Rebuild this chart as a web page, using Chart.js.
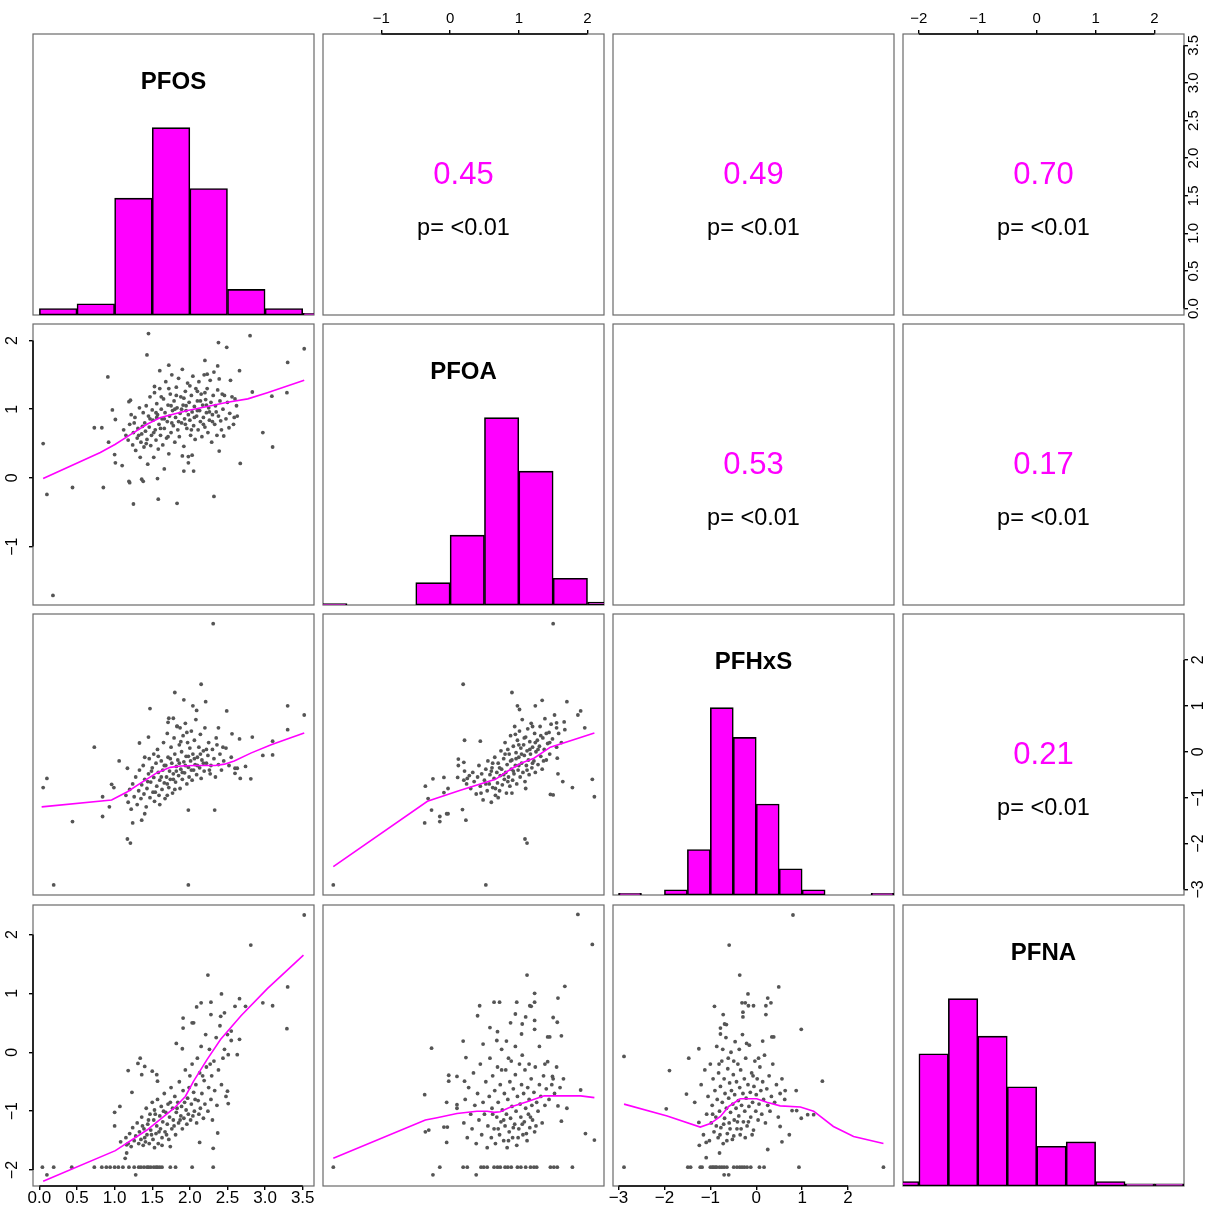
<!DOCTYPE html>
<html><head><meta charset="utf-8">
<script src="https://cdn.jsdelivr.net/npm/chart.js@4.4.1/dist/chart.umd.min.js"></script>
<style>
html,body{margin:0;padding:0;background:#fff;}
#wrap{position:relative;width:1216px;height:1207px;overflow:hidden;background:#fff;}
#wrap canvas{position:absolute;}
</style></head><body><div id="wrap"></div>
<script>
// ---------------- data ----------------
const varNames = ['PFOS', 'PFOA', 'PFHxS', 'PFNA'];
const axisMin = [-0.085, -1.85, -3.12, -2.27];
const axisMax = [3.65, 2.24, 3.0, 2.5];
const pfosTicks = [0, 0.5, 1, 1.5, 2, 2.5, 3, 3.5];
const pfoaTicks = [-1, 0, 1, 2];
const pfhxsTicks = [-3, -2, -1, 0, 1, 2];
const pfnaTicks = [-2, -1, 0, 1, 2];

const binWidth = 0.5;
const pfosBinStarts = [0, 0.5, 1, 1.5, 2, 2.5, 3, 3.5];
const pfosCounts = [4, 7, 73, 117, 79, 16, 4, 1];
const pfoaBinStarts = [-2, -0.5, 0, 0.5, 1, 1.5, 2];
const pfoaCounts = [1, 15, 47, 126, 90, 18, 2];
const pfhxsBinStarts = [-3, -2, -1.5, -1, -0.5, 0, 0.5, 1, 2.5];
const pfhxsCounts = [1, 3, 26, 107, 90, 52, 15, 3, 1];
const pfnaBinStarts = [-2.5, -2, -1.5, -1, -0.5, 0, 0.5, 1, 1.5, 2];
const pfnaCounts = [2, 60, 85, 68, 45, 18, 20, 2, 1, 1];

const corrPairs = [[0, 1], [0, 2], [0, 3], [1, 2], [1, 3], [2, 3]];
const corrValues = ['0.45', '0.49', '0.70', '0.53', '0.17', '0.21'];
const pValueLabels = ['p= <0.01', 'p= <0.01', 'p= <0.01', 'p= <0.01', 'p= <0.01', 'p= <0.01'];

// scatter: x = column variable, y = row variable
const pfosPfoaPoints = [
[0.05,0.50],[0.10,-0.24],[0.18,-1.71],[0.44,-0.14],[0.85,-0.14],[0.73,0.73],[0.83,0.73],[0.91,1.47],[0.97,0.99],[1.01,0.85],[0.92,0.52],[1.00,0.34],[1.01,0.22],[1.10,0.18],[1.19,1.11],[1.21,1.13],[1.25,-0.38],[1.19,-0.05],[1.20,-0.07],[1.36,-0.02],[1.38,-0.05],[1.43,1.79],[1.45,2.10],[1.53,1.33],[1.60,1.56],[1.58,-0.31],[1.57,-0.01],[1.66,0.13],[1.72,1.64],[1.83,-0.37],[2.32,-0.27],[2.38,1.97],[2.49,1.90],[2.80,2.07],[3.52,1.88],[3.30,1.68],[3.29,1.24],[3.09,1.19],[2.97,0.66],[3.10,0.45],[2.67,0.21],[2.39,0.39],[2.83,1.25],[2.66,1.56],[1.92,0.10],[2.05,0.10],[1.98,0.31],[2.03,0.33],[1.90,0.32],[2.63,0.90],[2.59,0.88],[2.60,1.15],[2.52,0.73],[2.45,0.61],[2.41,0.83],[2.54,1.42],[2.43,1.22],[2.32,1.54],[2.20,1.71],[2.37,1.63],[2.39,1.44],[2.23,1.51],
[1.12,0.70],[1.15,0.62],[1.18,0.55],[1.20,0.78],[1.22,0.92],[1.24,0.48],[1.25,0.66],[1.27,0.88],[1.28,0.40],[1.30,0.58],[1.31,0.72],[1.33,1.02],[1.34,0.30],[1.35,0.52],[1.36,0.64],[1.38,0.95],[1.39,0.45],[1.40,0.80],[1.41,0.68],[1.42,1.05],[1.43,0.56],[1.44,0.20],[1.45,0.90],[1.46,0.74],[1.47,1.18],[1.48,0.47],[1.49,0.62],[1.50,0.99],[1.51,0.84],[1.52,0.30],[1.53,1.24],[1.54,0.70],[1.55,0.55],[1.56,1.08],[1.57,0.92],[1.58,0.42],[1.59,0.78],[1.60,1.30],[1.61,0.62],[1.62,1.00],[1.63,0.86],[1.64,0.48],[1.65,1.15],[1.66,0.72],[1.67,0.95],[1.68,1.40],[1.69,0.58],[1.70,0.82],[1.71,1.06],[1.72,0.35],[1.73,0.90],[1.74,1.22],[1.75,0.66],[1.76,1.50],[1.77,0.98],[1.78,0.76],[1.79,1.12],[1.80,0.52],[1.81,0.88],[1.82,1.32],[1.83,1.02],[1.84,0.70],[1.85,1.45],[1.86,0.60],[1.87,0.94],[1.88,1.18],[1.89,0.80],[1.90,1.58],[1.91,1.06],[1.92,0.46],[1.93,0.86],[1.94,1.26],[1.95,0.98],[1.96,0.72],[1.97,1.38],[1.98,0.22],[1.99,1.10],[2.00,0.84],[2.01,0.62],[2.02,1.20],[2.03,0.96],[2.04,1.48],[2.05,0.76],[2.06,1.04],[2.07,0.56],[2.08,1.30],[2.09,0.90],[2.10,1.12],[2.11,0.70],[2.12,1.40],[2.13,0.98],[2.14,0.82],[2.15,1.22],[2.16,0.60],[2.17,1.06],[2.18,0.88],[2.19,1.50],[2.20,0.74],[2.21,1.14],[2.22,0.95],[2.23,1.30],[2.24,0.66],[2.25,1.02],[2.26,0.84],[2.27,1.42],[2.28,1.10],[2.29,0.52],[2.30,0.92],[2.31,1.20],[2.33,0.78],[2.34,1.05],[2.36,0.62],[2.37,1.28],[2.38,0.90],[2.40,1.12],[2.42,0.70],[2.44,1.00],[2.46,1.20],[2.48,0.86],[2.50,1.10],[2.53,0.94],[2.56,1.18],[2.58,0.78],[2.62,1.05],
[1.26,0.80],[1.32,0.62],[1.37,0.75],[1.42,0.50],[1.47,0.86],[1.52,0.66],[1.56,0.88],[1.61,0.72],[1.66,0.86],[1.71,0.60],[1.76,0.80],[1.80,1.00],[1.85,0.82],[1.89,1.00],[1.94,0.78],[1.98,0.92],[2.02,0.70],[2.06,0.88],[2.10,0.98],[2.14,1.12],[2.18,0.78],[2.22,1.06],[2.26,0.96],[2.30,0.82],[2.35,0.96],[1.62,1.18],[1.72,1.30],[1.82,1.20],[1.92,1.16],[2.00,1.34],[2.10,1.26],[2.20,1.24],[1.55,0.95],[1.75,1.05],[1.95,1.05]
];
const pfosPfoaSmooth = [[0.05,-0.01],[0.81,0.37],[1.01,0.49],[1.21,0.63],[1.43,0.78],[1.61,0.88],[1.79,0.93],[1.97,0.98],[2.23,1.04],[2.50,1.10],[2.77,1.15],[3.03,1.24],[3.52,1.42]];

const pfosPfhxsPoints = [
[0.05,-0.78],[0.10,-0.58],[0.19,-2.90],[0.44,-1.52],[0.73,0.10],[0.84,-0.98],[0.84,-1.41],[0.93,-1.20],[0.96,-0.71],[0.99,-0.78],[1.06,-0.20],[1.17,-0.36],[1.17,-1.90],[1.21,-1.99],[1.24,-1.55],[1.36,-1.49],[1.40,-1.35],[1.33,0.19],[1.47,0.94],[1.45,0.32],[1.80,1.29],[1.92,1.13],[1.98,-1.27],[1.98,-2.90],[2.15,1.47],[2.21,1.09],[2.31,2.79],[2.33,-1.27],[2.49,0.89],[2.04,1.00],[2.09,0.90],[1.72,0.73],[1.78,0.73],[1.71,0.64],[1.83,0.56],[1.87,0.52],[2.38,0.52],[2.56,0.39],[2.66,0.28],[2.83,0.32],[2.67,-0.58],[2.81,-0.59],[2.74,-0.32],[2.97,-0.08],[3.10,-0.07],[3.10,0.23],[3.30,1.00],[3.30,0.48],[3.52,0.80],[2.60,-0.36],[2.60,-0.47],[2.63,-0.36],
[1.15,-0.95],[1.18,-1.10],[1.20,-0.82],[1.22,-1.25],[1.24,-0.70],[1.26,-0.98],[1.28,-0.55],[1.30,-1.15],[1.32,-0.85],[1.33,-0.40],[1.35,-1.02],[1.36,-0.72],[1.38,-0.30],[1.39,-0.92],[1.40,-0.60],[1.42,-1.20],[1.43,-0.80],[1.45,-0.48],[1.46,-0.15],[1.47,-1.00],[1.48,-0.66],[1.50,-0.35],[1.51,-0.88],[1.52,-0.56],[1.53,-1.08],[1.55,-0.25],[1.56,-0.75],[1.57,0.05],[1.58,-0.45],[1.59,-0.95],[1.60,-0.62],[1.62,-0.20],[1.63,-0.82],[1.64,-0.40],[1.65,0.20],[1.66,-0.68],[1.67,-1.02],[1.68,-0.30],[1.69,-0.55],[1.70,0.40],[1.71,-0.12],[1.72,-0.78],[1.73,-0.42],[1.74,-0.60],[1.75,0.10],[1.76,-0.25],[1.77,-0.90],[1.78,-0.48],[1.79,0.30],[1.80,-0.05],[1.81,-0.66],[1.82,-0.32],[1.83,0.55],[1.84,-0.18],[1.85,-0.52],[1.86,0.15],[1.87,-0.80],[1.88,-0.38],[1.89,0.00],[1.90,-0.60],[1.91,0.35],[1.92,-0.22],[1.93,-0.46],[1.94,0.62],[1.95,-0.10],[1.96,-0.70],[1.97,0.20],[1.98,-0.34],[1.99,-0.55],[2.00,0.08],[2.01,-0.20],[2.02,0.45],[2.03,-0.62],[2.04,-0.05],[2.05,-0.40],[2.06,0.25],[2.07,-0.28],[2.08,0.70],[2.09,-0.50],[2.10,-0.12],[2.12,0.10],[2.13,-0.35],[2.14,0.38],[2.15,-0.58],[2.16,-0.18],[2.18,0.02],[2.19,-0.42],[2.20,0.52],[2.22,-0.25],[2.24,-0.08],[2.25,0.20],[2.27,-0.48],[2.28,-0.30],[2.30,0.05],[2.32,-0.15],[2.34,-0.55],[2.36,0.15],[2.38,-0.28],[2.40,-0.05],[2.42,-0.40],[2.45,-0.20],[2.48,0.08],[2.52,-0.30],[2.55,-0.12],
[1.44,-0.65],[1.49,-0.42],[1.54,-0.88],[1.58,-0.10],[1.62,-0.55],[1.66,-0.30],[1.70,-0.70],[1.74,-0.15],[1.78,-0.60],[1.82,-0.42],[1.86,-0.25],[1.90,-0.45],[1.94,-0.30],[1.98,-0.10],[2.02,-0.40],[2.06,-0.15],[2.10,-0.30],[2.14,-0.05],[2.18,-0.25],[2.22,0.05],[1.60,-1.15],[1.70,-0.95],[1.80,-0.82],[1.52,-0.05],[1.96,0.42],[2.26,-0.40],[2.35,0.30],[2.44,0.10],[1.40,-0.12],[1.88,0.22]
];
const pfosPfhxsSmooth = [[0.03,-1.20],[0.96,-1.05],[1.17,-0.87],[1.34,-0.69],[1.57,-0.45],[1.74,-0.34],[1.88,-0.31],[2.06,-0.30],[2.19,-0.30],[2.34,-0.30],[2.46,-0.27],[2.59,-0.20],[2.81,-0.03],[3.08,0.15],[3.35,0.31],[3.52,0.41]];

const pfoaPfhxsPoints = [
[-1.70,-2.90],[0.52,-2.90],[0.19,1.47],[1.50,2.79],[0.90,1.29],[0.21,0.25],[0.44,0.23],[-0.36,-0.75],[-0.37,-1.55],[-0.27,-1.27],[-0.32,-1.02],[-0.25,-0.59],[-0.15,-1.41],[-0.15,-1.52],[-0.09,-0.56],[-0.09,-0.89],[-0.05,-1.35],[-0.03,-1.35],[-0.03,-0.80],[0.23,-1.49],[0.18,-1.26],[1.09,-1.90],[1.12,-1.99],[2.07,-0.60],[2.10,-0.98],[1.90,0.89],[1.86,0.80],[1.96,0.52],[1.70,1.09],[1.34,1.12],[1.24,1.00],[0.98,1.00],[1.01,0.92],[1.55,0.63],[1.55,0.52],[1.67,0.48],[1.78,-0.78],[1.64,-0.65],[1.46,-0.93],[1.50,-0.94],[1.57,-0.48],[1.56,-0.14],[0.12,-0.16],[0.12,-0.30],[0.11,-0.56],[0.20,-0.23],[0.21,-0.42],[0.25,-0.58],
[0.20,-0.62],[0.24,-0.70],[0.28,-0.52],[0.30,-0.80],[0.33,-0.45],[0.35,-0.65],[0.38,-0.92],[0.40,-0.55],[0.42,-0.30],[0.44,-0.75],[0.46,-0.48],[0.48,-1.05],[0.50,-0.62],[0.52,-0.38],[0.54,-0.85],[0.55,-0.20],[0.57,-0.70],[0.58,-0.50],[0.60,-1.10],[0.61,-0.35],[0.62,-0.78],[0.64,-0.58],[0.65,-0.12],[0.66,-0.95],[0.68,-0.45],[0.69,-0.68],[0.70,-0.25],[0.72,-0.85],[0.73,-0.52],[0.74,0.02],[0.75,-0.38],[0.76,-0.72],[0.78,-0.15],[0.79,-0.60],[0.80,0.20],[0.81,-0.45],[0.82,-0.90],[0.83,-0.28],[0.84,0.05],[0.85,-0.55],[0.86,-0.05],[0.87,-0.75],[0.88,0.35],[0.89,-0.38],[0.90,-0.18],[0.91,-0.62],[0.92,0.12],[0.93,-0.48],[0.94,0.55],[0.95,-0.30],[0.96,-0.02],[0.97,-0.70],[0.98,0.25],[0.99,-0.40],[1.00,-0.12],[1.01,0.45],[1.02,-0.55],[1.03,0.08],[1.04,-0.25],[1.05,0.70],[1.06,-0.45],[1.07,0.15],[1.08,-0.08],[1.09,-0.65],[1.10,0.32],[1.11,-0.30],[1.12,0.02],[1.13,0.50],[1.14,-0.18],[1.15,-0.50],[1.16,0.22],[1.17,-0.05],[1.18,0.62],[1.19,-0.35],[1.20,0.10],[1.22,-0.20],[1.23,0.40],[1.24,-0.45],[1.25,0.00],[1.27,0.25],[1.28,-0.28],[1.30,0.12],[1.31,0.55],[1.32,-0.10],[1.34,-0.38],[1.35,0.30],[1.37,0.05],[1.38,0.72],[1.40,-0.18],[1.42,0.18],[1.44,0.42],[1.45,-0.05],[1.47,0.60],[1.49,0.28],[1.52,0.80],[1.55,0.10],[1.58,0.40],[1.62,0.20],[1.66,0.65],
[0.45,-0.90],[0.52,-0.70],[0.60,-0.42],[0.66,-0.80],[0.72,-0.35],[0.78,-0.50],[0.84,-0.65],[0.88,-0.20],[0.92,-0.42],[0.96,-0.15],[1.00,-0.30],[1.04,-0.05],[1.08,0.30],[1.12,-0.40],[1.16,0.05],[1.20,-0.25],[1.24,0.20],[1.28,0.05],[1.32,0.35],[1.36,-0.20],[1.40,0.40],[0.70,-1.00],[0.90,-0.90],[1.10,-0.80],[1.00,0.15],[1.20,0.55],[0.95,0.38],[0.80,-0.05],[1.45,0.20],[0.62,-0.25]
];
const pfoaPfhxsSmooth = [[-1.70,-2.50],[-0.33,-1.08],[0.15,-0.84],[0.66,-0.60],[0.83,-0.43],[1.03,-0.25],[1.22,-0.14],[1.46,0.10],[2.10,0.41]];

const pfosPfnaPoints = [
[0.04,-1.95],[0.19,-1.95],[0.43,-1.95],[0.73,-1.95],[0.83,-1.95],[0.89,-1.95],[0.94,-1.95],[1.00,-1.95],[1.05,-1.95],[1.11,-1.95],[1.19,-1.95],[1.26,-1.95],[1.32,-1.95],[1.35,-1.95],[1.39,-1.95],[1.43,-1.95],[1.45,-1.95],[1.48,-1.95],[1.52,-1.95],[1.55,-1.95],[1.57,-1.95],[1.60,-1.95],[1.63,-1.95],[1.74,-1.95],[1.81,-1.95],[2.03,-1.95],[2.31,-1.95],[0.10,-2.08],[1.28,-2.08],
[3.52,2.33],[2.81,1.82],[3.30,1.11],[3.29,0.40],[3.10,0.79],[2.97,0.84],[2.74,0.78],[2.66,0.91],[2.60,0.78],[2.24,1.31],[2.42,0.99],[2.15,0.84],[2.09,0.77],[2.28,0.85],[2.28,0.64],[1.91,0.58],[1.91,0.41],[2.03,0.50],[2.05,0.50],[2.46,0.67],[2.41,0.61],[2.55,0.36],[2.55,0.20],[2.66,0.22],[2.51,-0.04],[2.63,-0.04],[2.50,-0.66],[2.51,-0.87],[2.37,-1.37],[2.31,-1.63],[2.13,-1.53],[1.00,-1.02],[1.00,-1.25],[1.18,-0.31],[1.23,-0.68],[1.31,-0.19],[1.34,-0.10],[1.36,-0.38],[1.40,-0.24],[1.50,-0.32],[1.56,-0.38],[1.57,-0.49],[1.16,-1.57],[1.16,-1.71],[1.14,-1.80],[1.08,-1.52],[1.07,-0.92],[1.82,0.15],[1.90,0.06],
[1.15,-1.45],[1.18,-1.55],[1.20,-1.38],[1.22,-1.60],[1.24,-1.28],[1.26,-1.50],[1.28,-1.42],[1.30,-1.20],[1.32,-1.55],[1.33,-1.35],[1.35,-1.48],[1.36,-1.10],[1.38,-1.58],[1.39,-1.30],[1.40,-1.45],[1.42,-0.95],[1.43,-1.40],[1.44,-1.22],[1.46,-1.55],[1.47,-1.05],[1.48,-1.32],[1.50,-0.85],[1.51,-1.48],[1.52,-1.15],[1.53,-0.98],[1.55,-1.38],[1.56,-1.25],[1.57,-0.80],[1.58,-1.55],[1.60,-1.08],[1.61,-1.30],[1.62,-0.92],[1.63,-1.45],[1.64,-1.18],[1.66,-0.70],[1.67,-1.35],[1.68,-1.02],[1.70,-1.22],[1.71,-0.88],[1.72,-1.48],[1.73,-1.10],[1.75,-0.60],[1.76,-1.30],[1.77,-0.95],[1.78,-1.15],[1.80,-0.75],[1.81,-1.40],[1.82,-1.02],[1.84,-0.85],[1.85,-1.20],[1.86,-0.50],[1.88,-1.08],[1.89,-0.92],[1.90,-1.30],[1.91,-0.65],[1.92,-1.12],[1.94,-0.30],[1.95,-0.98],[1.96,-1.22],[1.97,-0.78],[1.98,-1.05],[2.00,-0.40],[2.01,-1.15],[2.02,-0.88],[2.03,-0.20],[2.04,-1.08],[2.05,-0.68],[2.06,-1.00],[2.08,-0.55],[2.09,-1.20],[2.10,-0.10],[2.11,-0.82],[2.12,-1.05],[2.13,-0.35],[2.14,-0.95],[2.15,0.10],[2.16,-0.70],[2.18,-1.12],[2.19,-0.48],[2.20,-0.88],[2.21,0.30],[2.22,-0.25],[2.24,-1.00],[2.25,-0.60],[2.26,0.05],[2.28,-0.80],[2.29,-0.40],[2.30,-1.15],[2.32,-0.15],[2.33,-0.65],[2.35,0.25],[2.36,-0.90],[2.38,-0.30],[2.40,0.45],[2.42,-0.55],[2.44,-0.10],[2.46,0.05],[2.48,-0.75],[2.50,0.30],
[1.37,-1.25],[1.41,-1.52],[1.45,-1.15],[1.49,-1.40],[1.54,-1.05],[1.59,-1.35],[1.65,-1.00],[1.69,-1.40],[1.74,-0.85],[1.79,-1.25],[1.83,-0.95],[1.87,-1.15],[1.93,-0.85],[1.99,-0.60],[2.07,-0.80],[2.17,-0.40],[2.27,-0.20],[1.53,-1.62],[1.63,-1.58],[1.74,-1.60]
];
const pfosPfnaSmooth = [[0.05,-2.19],[1.01,-1.67],[1.43,-1.32],[1.79,-0.95],[1.94,-0.75],[2.05,-0.49],[2.23,-0.12],[2.41,0.22],[2.68,0.62],[3.03,1.08],[3.51,1.65]];

const pfoaPfnaPoints = [
[-1.70,-1.95],[-0.15,-1.95],[0.19,-1.95],[0.25,-1.95],[0.45,-1.95],[0.49,-1.95],[0.54,-1.95],[0.64,-1.95],[0.69,-1.95],[0.73,-1.95],[0.80,-1.95],[0.84,-1.95],[0.89,-1.95],[0.98,-1.95],[1.03,-1.95],[1.10,-1.95],[1.17,-1.95],[1.22,-1.95],[1.26,-1.95],[1.46,-1.95],[1.51,-1.95],[1.56,-1.95],[1.78,-1.95],[-0.25,-2.08],[0.38,-2.08],
[1.86,2.34],[2.07,1.83],[1.67,1.12],[1.12,1.31],[1.23,1.00],[1.57,0.92],[1.50,0.59],[1.56,0.51],[1.62,0.28],[1.42,0.26],[1.45,0.26],[-0.27,0.07],[-0.37,-0.72],[-0.36,-1.35],[-0.31,-1.32],[-0.05,-0.85],[-0.09,-1.27],[-0.04,-1.27],[-0.05,-1.53],[-0.02,-0.39],[-0.02,-0.49],[0.10,-0.41],[0.21,-0.49],[0.19,0.19],[0.23,-0.09],[0.10,-0.89],[0.10,-0.95],[1.97,-1.38],[2.10,-1.49],[1.90,-0.64],[1.70,-0.95],[1.62,-1.17],[1.57,-0.91],[1.49,-0.41],[1.50,-0.45],[1.42,-0.16],[0.43,0.79],[0.40,0.62],[0.64,0.85],[0.72,0.85],[0.97,0.85],[0.58,0.42],[0.69,0.35],[0.48,0.14],[0.82,0.19],[0.95,0.65],[1.04,0.31],[1.23,0.85],[1.23,0.54],[1.23,0.39],[1.16,0.79],[1.18,0.78],[1.05,0.48],
[0.20,-1.20],[0.22,-0.80],[0.25,-1.45],[0.27,-0.60],[0.30,-1.05],[0.32,-1.30],[0.34,-0.35],[0.36,-0.90],[0.38,-1.55],[0.40,-0.70],[0.42,-1.15],[0.44,-0.20],[0.46,-1.40],[0.48,-0.85],[0.50,-1.05],[0.52,-0.50],[0.54,-1.62],[0.55,-1.25],[0.57,-0.75],[0.58,-0.10],[0.60,-1.45],[0.61,-0.95],[0.62,-0.40],[0.64,-1.30],[0.65,-0.65],[0.66,-1.55],[0.68,-1.10],[0.69,-0.25],[0.70,-0.85],[0.72,-1.40],[0.73,-0.55],[0.74,-1.18],[0.75,0.05],[0.76,-0.98],[0.78,-1.50],[0.79,-0.70],[0.80,-1.25],[0.81,-0.30],[0.82,-1.05],[0.83,-1.62],[0.84,-0.80],[0.86,-1.35],[0.87,-0.50],[0.88,-1.12],[0.89,-0.15],[0.90,-0.92],[0.91,-1.45],[0.92,-0.62],[0.94,-1.22],[0.95,-0.38],[0.96,-1.00],[0.97,-1.58],[0.98,-0.75],[1.00,-1.30],[1.01,-0.20],[1.02,-0.88],[1.03,-1.10],[1.04,-0.55],[1.06,-1.40],[1.07,-0.70],[1.08,-1.18],[1.09,-0.30],[1.10,-0.95],[1.12,-1.50],[1.13,-0.60],[1.14,-1.05],[1.15,-0.80],[1.16,-1.28],[1.18,-0.45],[1.19,-0.90],[1.20,-1.15],[1.22,-0.68],[1.23,-1.35],[1.24,-0.25],[1.26,-0.85],[1.28,-1.00],[1.30,-0.55],[1.32,-0.75],[1.34,-1.20],[1.36,-0.40],[1.38,-0.90],[1.40,-0.62],[1.44,-0.80],[1.48,-0.55],[1.52,-0.70],[1.55,-0.25],[1.60,-0.60],[1.65,-0.45],
[0.62,-1.05],[0.70,-1.30],[0.78,-1.15],[0.85,-1.50],[0.92,-1.28],[0.99,-1.45],[1.05,-1.22],[1.11,-1.38],[1.17,-1.10],[1.25,-1.25],[0.75,-0.30],[0.85,-0.10],[0.95,0.10],[1.05,-0.05],[1.15,-0.20],[0.68,0.20],[0.88,0.50],[1.10,0.60],[1.30,0.10],[1.38,-0.20]
];
const pfoaPfnaSmooth = [[-1.70,-1.80],[-0.36,-1.15],[-0.19,-1.11],[0.10,-1.04],[0.39,-1.00],[0.54,-1.00],[0.64,-1.02],[0.73,-1.01],[0.88,-0.93],[1.12,-0.84],[1.37,-0.74],[1.66,-0.74],[1.90,-0.74],[2.10,-0.77]];

const pfhxsPfnaPoints = [
[-2.88,-1.95],[-1.49,-1.95],[-1.43,-1.95],[-1.22,-1.95],[-1.18,-1.95],[-1.00,-1.95],[-0.96,-1.95],[-0.93,-1.95],[-0.89,-1.95],[-0.86,-1.95],[-0.80,-1.95],[-0.75,-1.95],[-0.70,-1.95],[-0.64,-1.95],[-0.49,-1.95],[-0.42,-1.95],[-0.36,-1.95],[-0.31,-1.95],[-0.26,-1.95],[-0.20,-1.95],[-0.12,-1.95],[0.07,-1.95],[0.17,-1.95],[0.93,-1.95],[2.77,-1.95],[-0.70,-2.08],[-0.60,-2.08],
[0.80,2.33],[-0.59,1.82],[-0.36,1.31],[0.49,1.11],[-0.18,0.99],[0.98,0.39],[1.44,-0.49],[-2.88,-0.07],[-1.89,-0.31],[-1.96,-0.96],[-1.47,-0.10],[-1.52,-0.71],[-1.34,-0.85],[-1.25,0.06],[-1.25,-1.19],[-1.24,-1.58],[-1.09,-1.79],[-0.80,-1.71],[-0.91,0.78],[-0.72,0.64],[-0.65,0.47],[-0.69,0.48],[-0.78,0.41],[-0.78,0.31],[-0.31,0.84],[-0.24,0.84],[-0.17,0.79],[-0.06,0.79],[-0.29,0.68],[-0.29,0.60],[0.21,0.79],[0.25,0.92],[0.32,0.84],[0.21,0.64],[0.34,0.26],[0.38,0.26],[0.14,0.19],[0.63,-0.65],[0.87,-0.65],[0.78,-0.99],[0.88,-0.99],[0.98,-1.12],[1.12,-1.06],[1.25,-1.06],[0.52,-1.26],[0.72,-1.40],[0.56,-1.52],[0.25,-1.65],[-1.09,-1.53],
[-1.20,-0.55],[-1.15,-1.40],[-1.12,-0.30],[-1.08,-1.05],[-1.05,-0.75],[-1.02,-1.50],[-1.00,-0.20],[-0.98,-1.20],[-0.96,-0.90],[-0.94,-0.45],[-0.92,-1.35],[-0.90,-0.65],[-0.88,-1.10],[-0.86,0.10],[-0.85,-0.80],[-0.83,-1.45],[-0.82,-0.35],[-0.80,-1.00],[-0.78,-0.58],[-0.77,-1.28],[-0.75,-0.15],[-0.74,-0.85],[-0.72,-1.55],[-0.70,-0.45],[-0.69,-1.12],[-0.68,-0.70],[-0.66,0.25],[-0.65,-0.95],[-0.63,-1.38],[-0.62,-0.28],[-0.60,-0.78],[-0.59,-1.20],[-0.58,-0.52],[-0.56,-1.02],[-0.55,0.00],[-0.54,-0.65],[-0.52,-1.48],[-0.51,-0.88],[-0.50,-0.38],[-0.48,-1.15],[-0.47,-0.72],[-0.46,0.18],[-0.44,-0.95],[-0.43,-0.50],[-0.42,-1.30],[-0.40,-0.20],[-0.39,-0.82],[-0.38,-1.08],[-0.36,-0.60],[-0.35,-1.40],[-0.34,-0.30],[-0.32,-0.90],[-0.30,0.30],[-0.29,-0.70],[-0.28,-1.18],[-0.26,-0.45],[-0.25,-1.00],[-0.23,-0.10],[-0.22,-0.78],[-0.20,-1.25],[-0.18,-0.55],[-0.16,-0.92],[-0.15,0.12],[-0.13,-0.68],[-0.12,-1.10],[-0.10,-0.35],[-0.08,-0.85],[-0.06,-1.32],[-0.05,-0.58],[-0.03,-0.15],[-0.01,-1.00],[0.00,-0.72],[0.02,-0.45],[0.04,-1.15],[0.06,-0.88],[0.08,-0.25],[0.10,-0.65],[0.12,-1.05],[0.14,-0.50],[0.16,-0.80],[0.18,-0.05],[0.20,-1.20],[0.23,-0.62],[0.25,-0.90],[0.28,-0.40],[0.30,-1.00],[0.33,-0.75],[0.36,-0.20],[0.40,-0.85],[0.44,-0.55],[0.48,-1.10],[0.52,-0.70],[0.56,-0.45],[0.62,-0.80],
[-0.95,-1.05],[-0.87,-1.25],[-0.79,-1.40],[-0.71,-1.22],[-0.64,-1.50],[-0.57,-1.30],[-0.49,-1.42],[-0.41,-1.18],[-0.33,-1.30],[-0.24,-1.45],[-0.17,-1.18],[-0.09,-1.40],[-0.81,-0.20],[-0.73,0.05],[-0.61,-0.10],[-0.49,-0.15],[-0.37,0.05],[-0.21,0.15],[-0.07,-0.40],[0.05,-0.10]
];
const pfhxsPfnaSmooth = [[-2.88,-0.88],[-1.94,-1.08],[-1.22,-1.27],[-1.00,-1.21],[-0.78,-1.09],[-0.60,-0.92],[-0.35,-0.79],[0.01,-0.79],[0.23,-0.85],[0.52,-0.91],[0.96,-0.93],[1.25,-1.00],[1.68,-1.26],[2.12,-1.43],[2.77,-1.55]];

// ---------------- layout & drawing ----------------
const MAGENTA = '#FF00FF';
const FONT = '"Liberation Sans", Arial, Helvetica, sans-serif';
Chart.defaults.font.family = FONT;
Chart.defaults.color = '#000';

const colLeft = [33, 323, 613, 903];
const rowTop = [34, 324, 614, 905];
const SIZE = 281;
const M = 36;
const AX = 30;

const tickSets = [pfosTicks, pfoaTicks, pfhxsTicks, pfnaTicks];
const histBins = [pfosBinStarts, pfoaBinStarts, pfhxsBinStarts, pfnaBinStarts];
const histCounts = [pfosCounts, pfoaCounts, pfhxsCounts, pfnaCounts];
const scatterSets = {
  '1,0': [pfosPfoaPoints, pfosPfoaSmooth],
  '2,0': [pfosPfhxsPoints, pfosPfhxsSmooth],
  '3,0': [pfosPfnaPoints, pfosPfnaSmooth],
  '2,1': [pfoaPfhxsPoints, pfoaPfhxsSmooth],
  '3,1': [pfoaPfnaPoints, pfoaPfnaSmooth],
  '3,2': [pfhxsPfnaPoints, pfhxsPfnaSmooth]
};

const panelDeco = {
  id: 'panelDeco',
  beforeDatasetsDraw(chart) {
    const {ctx, chartArea: a} = chart;
    ctx.save();
    ctx.strokeStyle = '#6a6a6a';
    ctx.lineWidth = 1.2;
    ctx.strokeRect(a.left, a.top, a.right - a.left, a.bottom - a.top);
    ctx.restore();
  },
  afterDraw(chart, args, opts) {
    const {ctx, chartArea: a} = chart;
    const cx = (a.left + a.right) / 2, cy = (a.top + a.bottom) / 2;
    ctx.save();
    ctx.textAlign = 'center';
    ctx.textBaseline = 'middle';
    if (opts.title) {
      ctx.fillStyle = '#000';
      ctx.font = 'bold 24px ' + FONT;
      ctx.fillText(opts.title, cx, a.top + 48);
    }
    if (opts.corr) {
      ctx.fillStyle = MAGENTA;
      ctx.font = '31px ' + FONT;
      ctx.fillText(opts.corr, cx, cy + 1);
      ctx.fillStyle = '#000';
      ctx.font = '23.5px ' + FONT;
      ctx.fillText(opts.p, cx, cy + 54);
    }
    // R-style axis lines spanning first..last tick
    ctx.strokeStyle = '#000';
    ctx.lineWidth = 1.5;
    Object.values(chart.scales).forEach(s => {
      if (!s.options.display || !s.ticks.length) return;
      const p0 = s.getPixelForValue(s.ticks[0].value);
      const p1 = s.getPixelForValue(s.ticks[s.ticks.length - 1].value);
      ctx.beginPath();
      if (s.position === 'top') { ctx.moveTo(p0, a.top); ctx.lineTo(p1, a.top); }
      else if (s.position === 'bottom') { ctx.moveTo(p0, a.bottom); ctx.lineTo(p1, a.bottom); }
      else if (s.position === 'left') { ctx.moveTo(a.left, p0); ctx.lineTo(a.left, p1); }
      else { ctx.moveTo(a.right, p0); ctx.lineTo(a.right, p1); }
      ctx.stroke();
    });
    ctx.restore();
  }
};

function fmtTick(v, oneDecimal) {
  const s = oneDecimal ? Number(v).toFixed(1) : String(v);
  return s.replace('-', '\u2212');
}

function varScale(v, axis, position, show) {
  const t = tickSets[v];
  const isX = axis === 'x';
  const tickOpts = {
    color: '#000', autoSkip: false,
    font: {size: 15, family: FONT},
    callback: (val) => fmtTick(val, v === 0)
  };
  if (isX) {
    tickOpts.minRotation = 0; tickOpts.maxRotation = 0;
    tickOpts.padding = position === 'top' ? 2 : -2;
    tickOpts.font = {size: position === 'top' ? 15 : 17, family: FONT};
  } else {
    tickOpts.minRotation = 90; tickOpts.maxRotation = 90;
    tickOpts.crossAlign = 'center';
    if (position === 'left') { tickOpts.padding = 7; tickOpts.font = {size: 16, family: FONT}; }
    else if (v === 0) { tickOpts.padding = -5; tickOpts.font = {size: 15, family: FONT}; }
    else { tickOpts.padding = 1; tickOpts.font = {size: 16, family: FONT}; }
  }
  return {
    type: 'linear', position, display: show, offset: false,
    min: axisMin[v], max: axisMax[v],
    afterBuildTicks: (s) => { s.ticks = t.map(val => ({value: val})); },
    afterFit: (s) => { if (!show) return; if (isX) s.height = AX; else s.width = AX; },
    grid: {display: true, drawOnChartArea: false, drawTicks: true, tickLength: 4, color: '#000', lineWidth: 1.4, offset: false},
    border: {display: false},
    ticks: tickOpts
  };
}

const wrap = document.getElementById('wrap');
for (let r = 0; r < 4; r++) {
  for (let c = 0; c < 4; c++) {
    const top = r === 0 && (c % 2 === 1);
    const bottom = r === 3 && (c % 2 === 0);
    const left = c === 0 && (r % 2 === 1);
    const right = c === 3 && (r % 2 === 0);
    const cv = document.createElement('canvas');
    const dim = SIZE + 2 * M;
    cv.width = dim; cv.height = dim;
    cv.style.left = (colLeft[c] - M) + 'px';
    cv.style.top = (rowTop[r] - M) + 'px';
    cv.style.width = dim + 'px'; cv.style.height = dim + 'px';
    wrap.appendChild(cv);

    const padding = {
      left: M - (left ? AX : 0), right: M - (right ? AX : 0),
      top: M - (top ? AX : 0), bottom: M - (bottom ? AX : 0)
    };
    const xScale = varScale(c, 'x', top ? 'top' : 'bottom', top || bottom);
    const yScale = varScale(r, 'y', right ? 'right' : 'left', left || right);
    const deco = {};
    let type = 'scatter';
    let datasets = [];

    if (r === c) {
      type = 'bar';
      const counts = histCounts[r];
      datasets = [{
        data: histBins[r].map((s, i) => ({x: s + binWidth / 2, y: counts[i]})),
        backgroundColor: MAGENTA, borderColor: '#000', borderWidth: 1.6,
        borderSkipped: false, barPercentage: 1, categoryPercentage: 1
      }];
      yScale.min = 0; yScale.max = 1.5 * Math.max(...counts);
      yScale.afterBuildTicks = undefined;
      yScale.display = false;
      deco.title = varNames[r];
    } else if (r < c) {
      const k = corrPairs.findIndex(p => p[0] === r && p[1] === c);
      deco.corr = corrValues[k];
      deco.p = pValueLabels[k];
    } else {
      const [pts, smooth] = scatterSets[r + ',' + c];
      datasets = [
        {type: 'line', data: smooth.map(p => ({x: p[0], y: p[1]})), borderColor: MAGENTA, borderWidth: 1.6,
         pointRadius: 0, fill: false, tension: 0, order: 0},
        {type: 'scatter', data: pts.map(p => ({x: p[0], y: p[1]})), backgroundColor: '#555555', borderWidth: 0,
         pointRadius: 1.9, order: 1}
      ];
    }

    new Chart(cv, {
      type,
      data: {datasets},
      options: {
        responsive: false, animation: false, events: [],
        layout: {padding},
        plugins: {legend: {display: false}, tooltip: {enabled: false}, title: {display: false}, panelDeco: deco},
        scales: {x: xScale, y: yScale}
      },
      plugins: [panelDeco]
    });
  }
}
</script>
</body></html>
